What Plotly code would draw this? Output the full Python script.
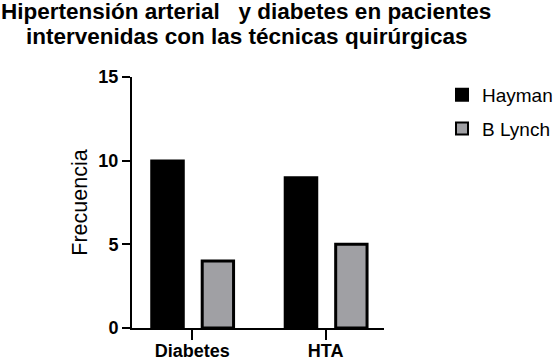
import plotly.graph_objects as go

categories = ["Diabetes", "HTA"]
hayman = [10, 9]
b_lynch = [4, 5]
y_ticks = [0, 5, 10, 15]
title_lines = ["Hipertensión arterial&nbsp;&nbsp;&nbsp;y diabetes en pacientes",
               "intervenidas con las técnicas quirúrgicas"]

FONT = "Liberation Sans, Arial, sans-serif"
x_pos = list(range(len(categories)))

W, H = 556, 360
L, R, T, B = 132, 172, 77, 32
PH = H - T - B


def py(pix):
    return (H - B - pix) / PH


def px(pix):
    return (pix - L) / (W - L - R)


fig = go.Figure()
fig.add_trace(go.Bar(
    name="Hayman", x=x_pos, y=hayman, width=0.24, offset=-0.305, legendgroup="a",
    marker=dict(color="#000000", line=dict(color="#000000", width=2.5)),
))
fig.add_trace(go.Bar(
    name="B Lynch", x=x_pos, y=b_lynch, width=0.235, offset=0.075, legendgroup="b",
    marker=dict(color="#A0A0A4", line=dict(color="#000000", width=3)),
))

annotations = []
for line, mid in zip(title_lines, [11, 37]):
    annotations.append(dict(
        text=f"<b>{line}</b>", xref="paper", yref="paper", x=px(246), y=py(mid),
        xanchor="center", yanchor="middle", showarrow=False,
        font=dict(family=FONT, size=22.5, color="black"),
    ))

fig.update_layout(
    width=W, height=H,
    margin=dict(l=L, r=R, t=T, b=B, autoexpand=False),
    paper_bgcolor="white", plot_bgcolor="white",
    showlegend=True,
    legend=dict(
        x=px(442), y=py(76), xanchor="left", yanchor="top",
        font=dict(family=FONT, size=19, color="black"),
        bgcolor="rgba(0,0,0,0)", tracegroupgap=6, traceorder="grouped",
        itemsizing="constant",
    ),
    barmode="overlay",
    annotations=annotations,
)

fig.update_xaxes(
    range=[-0.451, 1.437],
    tickmode="array", tickvals=x_pos, ticktext=[f"<b>{c}</b>" for c in categories],
    showline=True, linecolor="black", linewidth=2,
    ticks="outside", ticklen=10, tickwidth=2, tickcolor="black",
    ticklabelstandoff=-5,
    showgrid=False, zeroline=False,
    tickfont=dict(family=FONT, size=18, color="black"),
)
fig.update_yaxes(
    range=[0, 15],
    tickmode="array", tickvals=y_ticks, ticktext=[f"<b>{v}</b>" for v in y_ticks],
    showline=True, linecolor="black", linewidth=2,
    ticks="outside", ticklen=8, tickwidth=2, tickcolor="black",
    showgrid=False, zeroline=False,
    tickfont=dict(family=FONT, size=18, color="black"),
    title=dict(text="Frecuencia", font=dict(family=FONT, size=21.5, color="black"), standoff=5),
)

fig.write_html("out.html", config={"displayModeBar": False},
               post_script="document.body.style.margin='0px';")
